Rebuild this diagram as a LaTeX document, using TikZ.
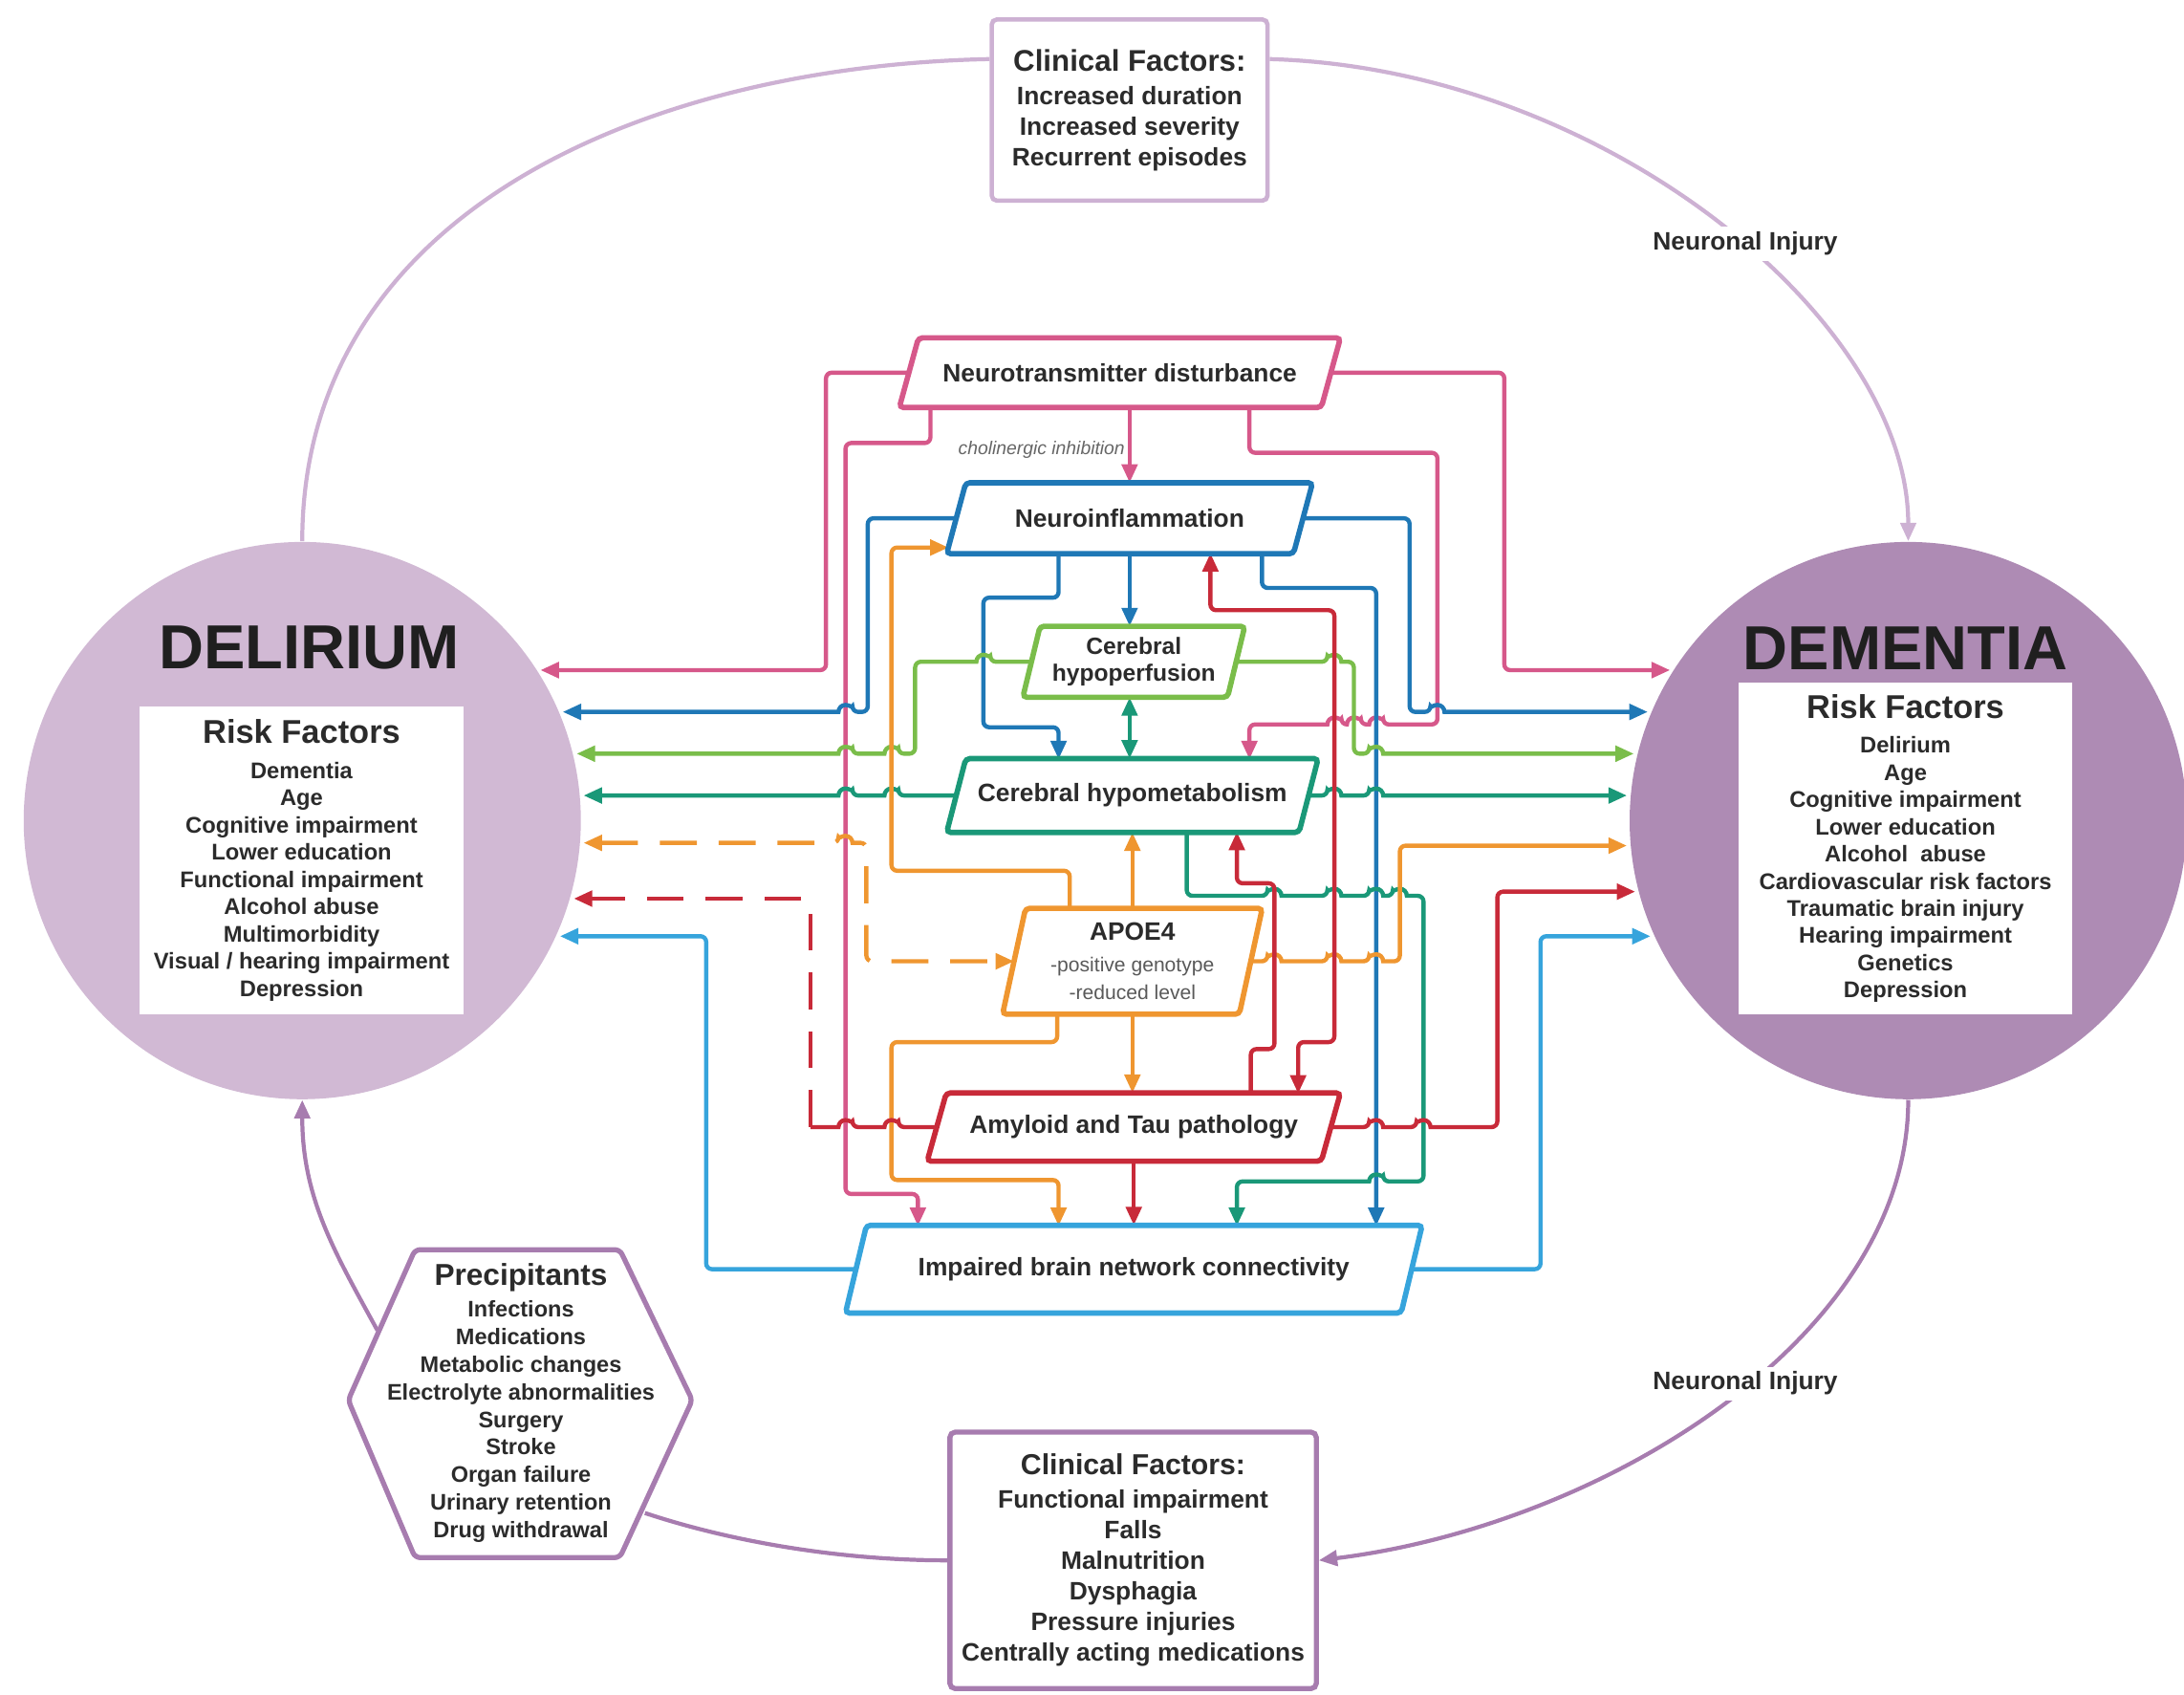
\documentclass[tikz,border=0pt]{standalone}
\usepackage{fontspec}
\setmainfont{Liberation Sans}
\usetikzlibrary{arrows.meta}

\definecolor{ntpink}{HTML}{D6588A}
\definecolor{niblue}{HTML}{1F78B6}
\definecolor{hpgreen}{HTML}{7ABD4A}
\definecolor{hmteal}{HTML}{1A9878}
\definecolor{apoorange}{HTML}{EF9630}
\definecolor{atred}{HTML}{C82A39}
\definecolor{ibblue}{HTML}{36A4DC}
\definecolor{delfill}{HTML}{D1B9D4}
\definecolor{demfill}{HTML}{AE8BB4}
\definecolor{arclight}{HTML}{CDB1D3}
\definecolor{arcdark}{HTML}{A77CAF}
\definecolor{ink}{HTML}{2B2B2B}

\newdimen\pxu \pxu=0.14573mm

\newcommand{\jumpL}[2]{-- ({#1+5},#2) [sharp corners] arc[start angle=0,end angle=180,radius=0.73mm] -- ({#1-6},#2) [rounded corners=0.6mm]}
\newcommand{\jumpR}[2]{-- ({#1-5},#2) [sharp corners] arc[start angle=180,end angle=0,radius=0.73mm] -- ({#1+6},#2) [rounded corners=0.6mm]}
\newcommand{\slantbox}[3]{\draw[boxline,#2] ([xshift=#3]#1.north west) -- ([xshift=#3]#1.north east) -- ([xshift=-#3]#1.south east) -- ([xshift=-#3]#1.south west) -- cycle;}

\tikzset{
  wire/.style={line width=1.25pt, rounded corners=0.6mm},
  tipped/.style={-{Triangle[length=5.5pt,width=4.6pt]}},
  twotips/.style={{Triangle[length=5.5pt,width=4.6pt]}-{Triangle[length=5.5pt,width=4.6pt]}},
  longdash/.style={dash pattern=on 11pt off 6.5pt},
  boxline/.style={line width=1.6pt, rounded corners=1.2pt},
  boxtext/.style={text=ink, font=\fontsize{7.5}{9}\selectfont\bfseries, inner sep=0pt, align=center},
  listtext/.style={text=ink, font=\fontsize{6.75}{8.1}\selectfont\bfseries, inner sep=0pt, align=center},
  riskbox/.style={listtext, fill=white},
  bigtitle/.style={text=black!88, font=\fontsize{18.5}{20}\selectfont\bfseries, inner sep=0pt},
  cyclearc/.style={line width=1.2pt},
  injury/.style={text=ink, font=\fontsize{7.5}{9}\selectfont\bfseries, fill=white, inner sep=1.5pt},
  cholin/.style={text=black!60, font=\fontsize{5.5}{6.5}\selectfont\itshape, inner sep=0pt}
}

\begin{document}
\begin{tikzpicture}[x=\pxu, y=\pxu]
\useasboundingbox (0,0) rectangle (1568,-1216);

\node[circle, fill=delfill, minimum size=400*\pxu, inner sep=0pt] (delirium) at (217,-589) {};
\node[circle, fill=demfill, minimum size=400*\pxu, inner sep=0pt] (dementia) at (1370,-589) {};
\node[bigtitle] (deltitle) at (222,-465) {DELIRIUM};
\node[bigtitle] (demtitle) at (1368,-465) {DEMENTIA};
\node[riskbox, minimum width=233*\pxu, minimum height=221*\pxu] (delrisk) at (216.5,-617.5) {{\fontsize{9.8}{11}\selectfont Risk Factors}\\[2.3pt]Dementia\\Age\\Cognitive impairment\\Lower education\\Functional impairment\\Alcohol abuse\\Multimorbidity\\Visual / hearing impairment\\Depression};
\node[riskbox, minimum width=240*\pxu, minimum height=238*\pxu] (demrisk) at (1368,-609) {{\fontsize{9.8}{11}\selectfont Risk Factors}\\[2.3pt]Delirium\\Age\\Cognitive impairment\\Lower education\\Alcohol\ \ abuse\\Cardiovascular risk factors\\Traumatic brain injury\\Hearing impairment\\Genetics\\Depression};

\node[listtext, draw=arclight, line width=1.3pt, rounded corners=1.5pt, minimum width=198*\pxu, minimum height=130*\pxu, font=\fontsize{7.5}{9.1}\selectfont\bfseries] (topcf) at (811,-79) {{\fontsize{8.9}{10}\selectfont Clinical Factors:}\\[0.9pt]Increased duration\\Increased severity\\Recurrent episodes};
\node[listtext, draw=arcdark, line width=1.5pt, rounded corners=1.5pt, minimum width=263*\pxu, minimum height=184*\pxu, font=\fontsize{7.5}{9.1}\selectfont\bfseries] (botcf) at (813.5,-1120) {{\fontsize{8.6}{10}\selectfont Clinical Factors:}\\[0.9pt]Functional impairment\\Falls\\Malnutrition\\Dysphagia\\Pressure injuries\\Centrally acting medications};
\draw[arcdark, line width=1.5pt, rounded corners=1.5pt] (298,-897) -- (445,-897) -- (497,-1005) -- (445,-1118) -- (298,-1118) -- (250,-1005) -- cycle;
\node[listtext, font=\fontsize{6.7}{8.2}\selectfont\bfseries] (precip) at (374,-1007) {{\fontsize{9}{10}\selectfont Precipitants}\\[1.3pt]Infections\\Medications\\Metabolic changes\\Electrolyte abnormalities\\Surgery\\Stroke\\Organ failure\\Urinary retention\\Drug withdrawal};
\coordinate (hexr) at (463,-1086);
\coordinate (hexl) at (271,-955);

\draw[cyclearc, arclight] (delirium.north) .. controls +(0,239) and +(-242,-5) .. (topcf.160);
\draw[cyclearc, arclight, tipped] (topcf.20) .. controls +(240,-7) and +(0,159) .. (dementia.north);
\draw[cyclearc, arcdark, tipped] (dementia.south) .. controls +(0,-171) and +(203,25) .. (botcf.east);
\draw[cyclearc, arcdark] (botcf.west) .. controls +(-82,0) and +(57,-19) .. (hexr);
\draw[cyclearc, arcdark, tipped] (hexl) .. controls +(-30,55) and +(0,-71) .. (delirium.south);
\node[injury] (injtop) at (1253,-175) {Neuronal Injury};
\node[injury] (injbot) at (1253,-993) {Neuronal Injury};

\node[boxtext, minimum width=302*\pxu, minimum height=49*\pxu] (nt) at (804,-267.5) {Neurotransmitter disturbance};
\node[boxtext, minimum width=248*\pxu, minimum height=50*\pxu] (ni) at (811,-372) {Neuroinflammation};
\node[boxtext, minimum width=146*\pxu, minimum height=50*\pxu, font=\fontsize{7}{7.9}\selectfont\bfseries] (chp) at (814,-475) {Cerebral\\hypoperfusion};
\node[boxtext, minimum width=252*\pxu, minimum height=52*\pxu] (chm) at (813,-571) {Cerebral hypometabolism};
\node[boxtext, minimum width=169*\pxu, minimum height=75*\pxu, font=\fontsize{6}{8.3}\selectfont] (apoe) at (813,-690) {{\fontsize{7.5}{9}\selectfont\bfseries APOE4}\\[1.2pt]{\color{black!65}-positive genotype}\\{\color{black!65}-reduced level}};
\node[boxtext, minimum width=282*\pxu, minimum height=48*\pxu] (atp) at (814,-809) {Amyloid and Tau pathology};
\node[boxtext, minimum width=398*\pxu, minimum height=62*\pxu] (ibnc) at (814,-911) {Impaired brain network connectivity};
\node[cholin, anchor=east] (cholinlbl) at (808,-323) {cholinergic inhibition};

\draw[wire, ntpink, tipped] (nt.west) -| (593,-481) -- (388,-481);
\draw[wire, ntpink, tipped] (668,-292) |- (607,-318) |- (659,-857) -- (659,-880);
\draw[wire, ntpink, tipped] (ni.north |- nt.south) -- (ni.north);
\draw[wire, ntpink, tipped] (897,-292) |- (1032,-325) -- (1032,-520) \jumpL{988}{-520} \jumpL{972}{-520} \jumpL{958}{-520} -- (897,-520) -- (897,-545);
\draw[wire, ntpink, tipped] (nt.east) -| (1080,-481) -- (1199,-481);

\draw[wire, niblue, tipped] (ni.west) -| (623,-511) \jumpL{607}{-511} -- (404,-511);
\draw[wire, niblue, tipped] (760,-397) |- (706,-429) |- (760,-522) -- (760,-545);
\draw[wire, niblue, tipped] (ni.south) -- (ni.south |- chp.north);
\draw[wire, niblue, tipped] (906,-397) |- (988,-422) -- (988,-880);
\draw[wire, niblue, tipped] (ni.east) -| (1012,-511) \jumpR{1032}{-511} -- (1183,-511);

\draw[wire, hpgreen, tipped] (chp.west) \jumpL{706}{-475} -- (657,-475) -- (657,-541) \jumpL{640}{-541} \jumpL{607}{-541} -- (414,-541);
\draw[wire, hpgreen, tipped] (chp.east) \jumpR{958}{-475} -- (972,-475) -- (972,-541) \jumpR{988}{-541} -- (1173,-541);

\draw[wire, hmteal, tipped] (chm.west) \jumpL{640}{-571} \jumpL{607}{-571} -- (419,-571);
\draw[wire, hmteal, tipped] (chm.east) \jumpR{958}{-571} \jumpR{988}{-571} -- (1168,-571);
\draw[wire, hmteal, twotips] (ni.south |- chp.south) -- (ni.south |- chm.north);
\draw[wire, hmteal, tipped] (852,-597) -- (852,-643) \jumpR{915}{-643} \jumpR{958}{-643} \jumpR{988}{-643} \jumpR{1005}{-643} -- (1022,-643) -- (1022,-848) \jumpL{988}{-848} -- (888,-848) -- (888,-880);

\draw[wire, apoorange, tipped] (768,-652.5) |- (640,-625) |- (681,-393);
\draw[wire, apoorange, tipped] (apoe.north) -- (apoe.north |- chm.south);
\draw[wire, apoorange, tipped] (apoe.south) -- (apoe.south |- atp.north);
\draw[wire, apoorange, tipped] (759,-727.5) |- (640,-748) |- (760,-847) -- (760,-880);
\draw[wire, apoorange, tipped] (apoe.east) \jumpR{915}{-690} \jumpR{958}{-690} \jumpR{988}{-690} -- (1005,-690) -- (1005,-607) -- (1168,-607);
\draw[wire, apoorange, twotips, longdash] (419,-605) \jumpR{607}{-605} -- (622,-605) |- (apoe.west);

\draw[wire, atred] (atp.west) \jumpL{640}{-809} \jumpL{607}{-809} -- (582,-809);
\draw[wire, atred, tipped, longdash] (582,-809) |- (412,-645);
\draw[wire, atred, tipped] (898,-785) |- (915,-753) |- (888,-634) -- (888,-597);
\draw[wire, atred, twotips] (869,-397) |- (958,-438) |- (932,-748) -- (932,-785);
\draw[wire, atred, tipped] (atp.south) -- (atp.south |- ibnc.north);
\draw[wire, atred, tipped] (atp.east) \jumpR{988}{-809} \jumpR{1022}{-809} -- (1075,-809) -- (1075,-640) -- (1174,-640);

\draw[wire, ibblue, tipped] (ibnc.west) -| (507,-672) -- (402,-672);
\draw[wire, ibblue, tipped] (ibnc.east) -| (1106,-672) -- (1185,-672);

\slantbox{nt}{ntpink}{1mm}
\slantbox{ni}{niblue}{1mm}
\slantbox{chp}{hpgreen}{0.9mm}
\slantbox{chm}{hmteal}{1mm}
\slantbox{apoe}{apoorange}{1.2mm}
\slantbox{atp}{atred}{1mm}
\slantbox{ibnc}{ibblue}{1.1mm}
\end{tikzpicture}
\end{document}
